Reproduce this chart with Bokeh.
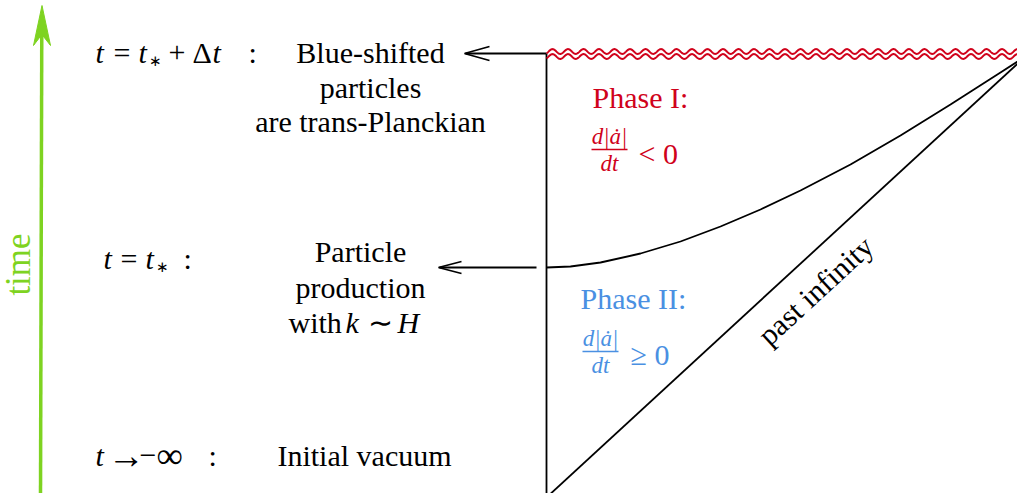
import numpy as np
from bokeh.plotting import figure
from bokeh.models import Range1d, ColumnDataSource
from bokeh.core.properties import value
from bokeh.embed import file_html
from bokeh.resources import INLINE

GREEN = "#7ED321"
RED = "#D0021B"
BLUE = "#4A90E2"
BLACK = "#000000"
FONT = "Liberation Serif"
BODY = "30px"

# ---------------- text content ----------------
time_label = "time"
# event time labels, as runs of (text, style)
event_time_runs = [
    [("t", "italic"), ("=", "normal"), ("t", "italic"), ("∗", "sub"), ("+", "normal"),
     ("Δ", "normal"), ("t", "italic"), (":", "normal")],
    [("t", "italic"), ("=", "normal"), ("t", "italic"), ("∗", "sub"), (":", "normal")],
    [("t", "italic"), ("→", "big"), ("−", "normal"), ("∞", "big"), (":", "normal")],
]
event_descriptions = [
    ["Blue-shifted", "particles", "are trans-Planckian"],
    ["Particle", "production"],
    ["Initial vacuum"],
]
production_scale_runs = [("with", "normal"), ("k", "italic"), ("∼", "normal"), ("H", "italic")]
phase_titles = ["Phase I:", "Phase II:"]
phase_numerators = ["d|ȧ|", "d|ȧ|"]
phase_denominators = ["dt", "dt"]
phase_relations = ["< 0", "≥ 0"]
phase_colors = [RED, BLUE]
boundary_label = "past infinity"

# ---------------- layout (reference pixel coordinates) ----------------
event_time_x = [[95, 113, 138, 148, 168, 192, 212, 248],
                [103, 120, 145, 155, 183],
                [95, 107, 139, 156, 208]]
event_row_y = [52, 258, 455]
desc_center_x = [370, 360, 364]
desc_line_y = [[52, 87, 121], [251, 287], [455]]
production_scale_x = [288, 345, 367, 397]
production_scale_y = 322

phase_title_pos = [(592, 97), (580, 298)]
phase_frac_center = [609, 600]
phase_frac_bar = [(591, 627, 149), (582, 618, 351)]
phase_rel_pos = [(638, 153), (630, 354)]

left_edge_x, left_edge_y = [546, 546], [53, 497]
past_x, past_y = [546, 1025], [497, 56]
transition_x = [546, 570, 600, 640, 680, 720, 760, 800, 850, 900, 950, 1000, 1025]
transition_y = [267, 266, 262, 253, 241, 226, 209, 190, 164, 135, 104, 72, 56]

arrow_lines = [([546, 465], [53, 53]), ([536, 439], [267, 267])]
arrow_heads = [([489, 464, 489], [46, 53, 60]), ([461, 438, 461], [261, 267, 273])]

time_shaft = ([40, 41.3], [500, 20])
time_head = ([41.5, 50, 41.4, 33], [5, 45, 34, 45])

p = figure(width=1017, height=493, output_backend="svg", toolbar_location=None,
           x_range=Range1d(0, 1017), y_range=Range1d(493, 0),
           x_axis_location=None, y_axis_location=None, min_border=0)
p.grid.visible = False
p.outline_line_color = None
p.background_fill_color = "white"

# ---- time arrow ----
p.line(time_shaft[0], time_shaft[1], line_color=GREEN, line_width=3.5)
p.patch(time_head[0], time_head[1], fill_color=GREEN, line_color=GREEN, line_width=1)
p.text(x=[18], y=[264], text=[time_label], angle=np.pi / 2, text_color=GREEN,
       text_font=value(FONT), text_font_size="35px", text_align="center",
       text_baseline="middle")

# ---- diagram lines ----
p.line(left_edge_x, left_edge_y, line_color=BLACK, line_width=1.8)
p.line(past_x, past_y, line_color=BLACK, line_width=1.8)
p.line(transition_x, transition_y, line_color=BLACK, line_width=1.8)
for (lx, ly), (hx, hy) in zip(arrow_lines, arrow_heads):
    p.line(lx, ly, line_color=BLACK, line_width=1.8)
    p.line(hx, hy, line_color=BLACK, line_width=1.8)

# ---- singular (wavy) boundary: double red snake ----
sx = np.linspace(546, 1025, 1200)
wave = -2.4 * np.cos(2 * np.pi * (sx - 552) / 15.5)
p.line(sx, 51.0 + wave, line_color=RED, line_width=2)
p.line(sx, 56.0 + wave, line_color=RED, line_width=2)

# ---- texts ----
L = dict(x=[], y=[], text=[], style=[], size=[], color=[])
C = dict(x=[], y=[], text=[], style=[], size=[], color=[])


def put(store, x, y, text, style="normal", size=BODY, color=BLACK):
    store["x"].append(x)
    store["y"].append(y)
    store["text"].append(text)
    store["style"].append(style)
    store["size"].append(size)
    store["color"].append(color)


for runs, xs, y in zip(event_time_runs, event_time_x, event_row_y):
    for (t, st), x in zip(runs, xs):
        if st == "sub":
            put(L, x, y + 8, t, "normal", "15px")
        elif st == "big":
            put(L, x, y, t, "normal", "37px")
        else:
            put(L, x, y, t, st)

for lines, cx, ys in zip(event_descriptions, desc_center_x, desc_line_y):
    for t, y in zip(lines, ys):
        put(C, cx, y, t)

for (t, st), x in zip(production_scale_runs, production_scale_x):
    put(L, x, production_scale_y, t, st)

for i in range(2):
    col = phase_colors[i]
    tx, ty = phase_title_pos[i]
    put(L, tx, ty, phase_titles[i], "normal", BODY, col)
    x0, x1, by = phase_frac_bar[i]
    p.line([x0, x1], [by, by], line_color=col, line_width=1.3)
    put(C, phase_frac_center[i], by - 13, phase_numerators[i], "italic", "23px", col)
    put(C, phase_frac_center[i], by + 14, phase_denominators[i], "italic", "23px", col)
    rx, ry = phase_rel_pos[i]
    put(L, rx, ry, phase_relations[i], "normal", BODY, col)

p.text(x="x", y="y", text="text", source=ColumnDataSource(L), text_align="left",
       text_baseline="middle", text_font=value(FONT), text_font_style="style",
       text_font_size="size", text_color="color")
p.text(x="x", y="y", text="text", source=ColumnDataSource(C), text_align="center",
       text_baseline="middle", text_font=value(FONT), text_font_style="style",
       text_font_size="size", text_color="color")

ang = np.arctan2(past_y[0] - past_y[1], past_x[1] - past_x[0])
p.text(x=[815], y=[290], text=[boundary_label], angle=ang, text_color=BLACK,
       text_font=value(FONT), text_font_size=BODY, text_align="center",
       text_baseline="middle")

open("out.html", "w").write(file_html(p, INLINE))
